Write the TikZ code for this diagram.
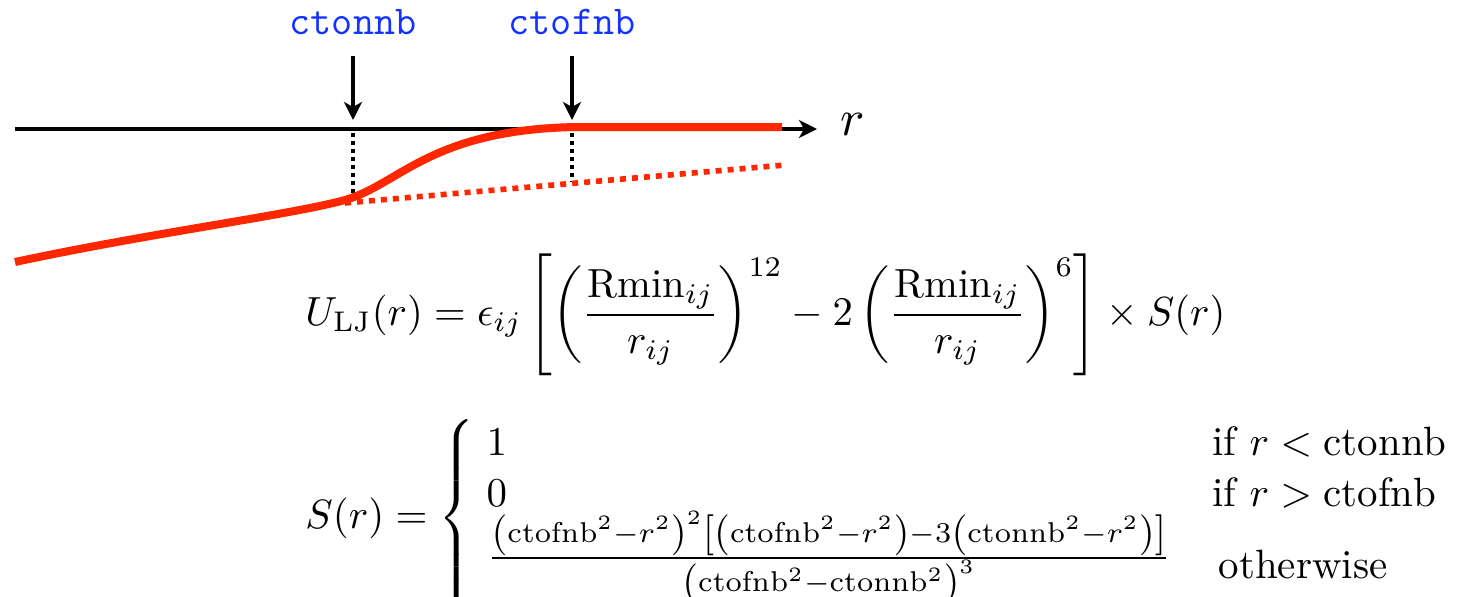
\documentclass[tikz,border=0pt]{standalone}
\usepackage{amsmath}
\usepackage{graphicx}
\usepackage{fontspec}
\usetikzlibrary{arrows.meta}
\definecolor{lblblue}{RGB}{20,50,255}
\definecolor{curvered}{RGB}{255,38,0}
\begin{document}
\begin{tikzpicture}[x=0.5pt,y=-0.5pt,
  lbl/.style={font=\ttfamily\fontsize{20.5}{22}\selectfont, text=lblblue, inner sep=0pt},
  axisline/.style={line width=1.6pt, -{Stealth[length=9pt,width=9pt,inset=2.5pt]}},
  downarrow/.style={line width=1.6pt, -{Stealth[length=9pt,width=9pt,inset=2.5pt]}},
  guide/.style={line width=2pt, dash pattern=on 2pt off 2pt},
  redsolid/.style={line width=4pt, curvered},
  reddot/.style={line width=2.8pt, curvered, dash pattern=on 3pt off 3pt},
  formula/.style={inner sep=0pt}]
\useasboundingbox (0,0) rectangle (1470,596);
% labels
\node[lbl] (on) at (353,22) {ctonnb};
\node[lbl] (off) at (572,22) {ctofnb};
\coordinate (onS) at (353,56);  \coordinate (onT) at (353,120);
\coordinate (offS) at (572,56); \coordinate (offT) at (572,120);
\draw[downarrow] (onS) -- (onT);
\draw[downarrow] (offS) -- (offT);
% axis
\coordinate (axL) at (15,129);
\coordinate (axR) at (817,129);
\draw[axisline] (axL) -- (axR);
\node[inner sep=0pt] (r) at (853,124) {\resizebox{!}{11pt}{$r$}};
% guides
\coordinate (g1a) at (353,133); \coordinate (g1b) at (353,196);
\coordinate (g2a) at (572,133); \coordinate (g2b) at (572,182);
\draw[guide] (g1a) -- (g1b);
\draw[guide] (g2a) -- (g2b);
% red curves
\coordinate (d1) at (345,203); \coordinate (d2) at (785,165);
\draw[reddot] (d1) -- (d2);
\coordinate (c0) at (15,262); \coordinate (c1) at (345,200);
\coordinate (c2) at (575,127); \coordinate (c3) at (782,127);
\draw[redsolid] (c0) .. controls (150,233) and (290,215) .. (c1)
  .. controls (400,184) and (430,130) .. (c2) -- (c3);
% formulas
\node[formula, anchor=west] (f1) at (305,315) {\resizebox{460pt}{!}{$\displaystyle
  U_{\mathrm{LJ}}(r)=\epsilon_{ij}\left[\left(\frac{\mathrm{Rmin}_{ij}}{r_{ij}}\right)^{12}-2\left(\frac{\mathrm{Rmin}_{ij}}{r_{ij}}\right)^{6}\right]\times S(r)$}};
\node[formula, anchor=west] (f2) at (305,518) {\resizebox{573pt}{!}{$\displaystyle
  S(r)=\left\{\begin{array}{@{\;}l@{\hspace{10pt}}l@{}}
  1 & \text{if } r<\mathrm{ctonnb}\\[0.5pt]
  0 & \text{if } r>\mathrm{ctofnb}\\[0pt]
  \raisebox{2.5pt}[\height][\depth]{$\frac{\left(\mathrm{ctofnb}^2-r^2\right)^2\left[\left(\mathrm{ctofnb}^2-r^2\right)-3\left(\mathrm{ctonnb}^2-r^2\right)\right]}{\left(\mathrm{ctofnb}^2-\mathrm{ctonnb}^2\right)^3}$} & \,\text{otherwise}
  \end{array}\right.$}};
\end{tikzpicture}
\end{document}
